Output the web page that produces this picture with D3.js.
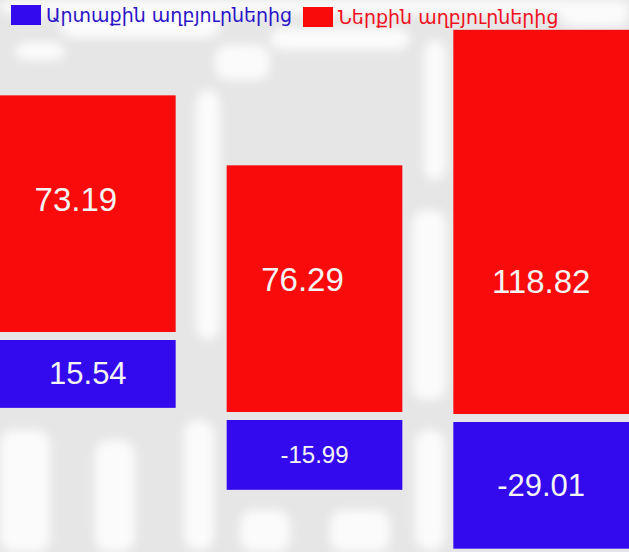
<!DOCTYPE html>
<html>
<head>
<meta charset="utf-8">
<script src="https://cdn.jsdelivr.net/npm/d3@7"></script>
<style>
    html, body { margin: 0; padding: 0; background: #fff; }
    svg { display: block; }
    .legend text { font-family: 'DejaVu Sans', sans-serif; font-size: 19px; }
    .value { font-family: 'Liberation Sans', Arial, sans-serif; fill: #f4f4f4; text-anchor: middle; dominant-baseline: central; }
</style>
</head>
<body>
<svg id="chart"></svg>
<script>
// Data.
const columns = ['c1', 'c2', 'c3'];
const internalValues = [73.19, 76.29, 118.82];
const externalValues = [15.54, -15.99, -29.01];
const seriesNames = ['Արտաքին աղբյուրներից', 'Ներքին աղբյուրներից'];

// Chart dimensions and other constants.
const width = 629;
const height = 552;
const colors = { external: '#3309ee', internal: '#f90b0b', externalText: '#2b14c8', internalText: '#f0101c' };
// Where each red bar ends (the picture is not on a common baseline).
const redBottom = [332, 412, 414];
const gap = 8;
const redLabelRise = 133;

const svg = d3.select('#chart').attr('width', width).attr('height', height);

// Background texture (decorative).
const defs = svg.append('defs');
defs.append('filter').attr('id', 'soft')
    .attr('x', '-20%').attr('y', '-20%').attr('width', '140%').attr('height', '140%')
    .append('feGaussianBlur').attr('stdDeviation', 5);
svg.append('rect').attr('width', width).attr('height', height).attr('fill', '#e6e6e6');
const blobs = [
    [0, 0, 629, 14], [60, 8, 160, 30], [270, 28, 140, 22], [196, 90, 24, 250], [424, 40, 22, 140],
    [412, 210, 34, 190], [184, 420, 30, 130], [415, 430, 30, 120], [0, 430, 50, 122], [95, 440, 40, 112],
    [240, 510, 50, 42], [330, 510, 60, 42], [215, 45, 55, 35], [15, 42, 50, 18], [560, 0, 69, 26]
];
svg.append('g')
    .attr('filter', 'url(#soft)')
    .selectAll('rect')
    .data(blobs)
    .enter()
    .append('rect')
    .attr('x', d => d[0]).attr('y', d => d[1])
    .attr('width', d => d[2]).attr('height', d => d[3])
    .attr('rx', 14)
    .attr('fill', '#fbfbfb');

// X scale.
const x = d3.scaleBand().domain(columns).range([0, width]).paddingInner(0.225).paddingOuter(0);

// Height scales.
const hRed = d3.scaleLinear().domain([0, 120]).range([0, 388]);
const hBlue = d3.scaleLinear().domain([0, 30]).range([0, 131]);

const bars = svg.append('g');

// Internal (red) bars.
bars.selectAll('.red')
    .data(columns)
    .enter()
    .append('rect')
    .attr('class', 'red')
    .attr('x', c => x(c))
    .attr('y', (c, i) => redBottom[i] - hRed(internalValues[i]))
    .attr('width', x.bandwidth())
    .attr('height', (c, i) => hRed(internalValues[i]))
    .attr('fill', colors.internal);

// External (blue) bars.
bars.selectAll('.blue')
    .data(columns)
    .enter()
    .append('rect')
    .attr('class', 'blue')
    .attr('x', c => x(c))
    .attr('y', (c, i) => redBottom[i] + gap)
    .attr('width', x.bandwidth())
    .attr('height', (c, i) => hBlue(Math.abs(externalValues[i])))
    .attr('fill', colors.external);

// Value labels.
svg.append('g')
    .selectAll('text')
    .data(columns)
    .enter()
    .append('text')
    .attr('class', 'value')
    .attr('x', (c, i) => x(c) + x.bandwidth() / 2 - (i === 2 ? 0 : 12))
    .attr('y', (c, i) => redBottom[i] - redLabelRise)
    .attr('font-size', 33)
    .text((c, i) => internalValues[i].toFixed(2));

svg.append('g')
    .selectAll('text')
    .data(columns)
    .enter()
    .append('text')
    .attr('class', 'value')
    .attr('x', c => x(c) + x.bandwidth() / 2)
    .attr('y', (c, i) => redBottom[i] + gap + hBlue(Math.abs(externalValues[i])) / 2)
    .attr('font-size', (c, i) => (i === 1 ? 24 : 31))
    .text((c, i) => externalValues[i].toFixed(2));

// Legend.
const legend = svg.append('g').attr('class', 'legend');
const legendItems = [
    { name: seriesNames[0], fill: colors.external, text: colors.externalText, x: 11, y: 5 },
    { name: seriesNames[1], fill: colors.internal, text: colors.internalText, x: 303, y: 7 },
];
const item = legend.selectAll('g').data(legendItems).enter().append('g')
    .attr('transform', d => `translate(${d.x}, ${d.y})`);
item.append('rect').attr('width', 30).attr('height', 20).attr('fill', d => d.fill);
item.append('text').attr('x', 35).attr('y', 17).attr('fill', d => d.text).text(d => d.name);
</script>
</body>
</html>
